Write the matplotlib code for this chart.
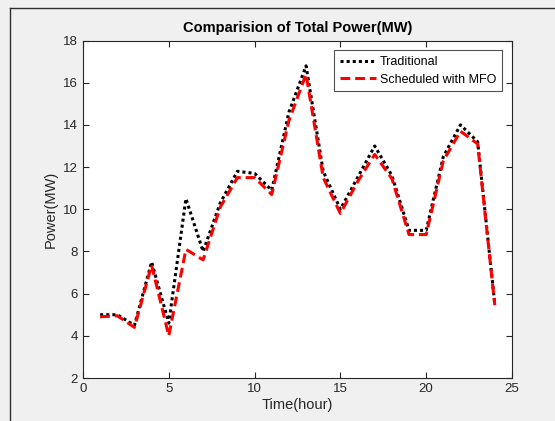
import numpy as np
import matplotlib

matplotlib.use("Agg")
import matplotlib.pyplot as plt
from matplotlib.lines import Line2D

plt.rcParams["font.family"] = ["Liberation Sans", "DejaVu Sans"]

hours = list(range(1, 25))
traditional = [5.0, 5.0, 4.5, 7.5, 4.6, 10.5, 8.0, 10.3, 11.8, 11.7, 10.9, 14.6,
               16.8, 11.8, 10.0, 11.5, 13.0, 11.6, 9.0, 9.0, 12.5, 14.0, 13.2, 5.5]
scheduled_mfo = [4.9, 4.95, 4.4, 7.35, 4.0, 8.1, 7.6, 10.1, 11.5, 11.5, 10.7, 14.2,
                 16.4, 11.5, 9.8, 11.3, 12.6, 11.45, 8.8, 8.8, 12.3, 13.7, 13.1, 5.45]

bg = "#f0f0f0"
axc = "#262626"

fig = plt.figure(figsize=(5.55, 4.21), dpi=100, facecolor=bg)
ax = fig.add_axes([0.1495, 0.1021, 0.7730, 0.8017])

ax.plot(hours, traditional, color="black", linestyle=(0, (1, 1)), linewidth=2.2,
        label="Traditional")
ax.plot(hours, scheduled_mfo, color="red", linestyle=(0, (3.2, 1.6)), linewidth=2.2,
        label="Scheduled with MFO")

ax.set_xlim(0, 25)
ax.set_ylim(2, 18)
ax.set_xticks(np.arange(0, 26, 5))
ax.set_yticks(np.arange(2, 19, 2))
ax.tick_params(direction="in", top=True, right=True, length=4, width=0.8,
               colors=axc, labelsize=9.5, labelcolor=axc)
for s in ax.spines.values():
    s.set_color(axc)
    s.set_linewidth(0.8)

ax.set_xlabel("Time(hour)", fontsize=10.5, color=axc, labelpad=2)
ax.set_ylabel("Power(MW)", fontsize=10.5, color=axc, labelpad=4)
ax.set_title("Comparision of Total Power(MW)", fontsize=10.5, fontweight="bold",
             color="black", pad=6)

leg = ax.legend(loc="upper right", bbox_to_anchor=(0.977, 0.971), fontsize=9,
                frameon=True, fancybox=False, handlelength=2.9, handletextpad=0.3,
                borderpad=0.45, labelspacing=0.45, borderaxespad=0.0)
leg.get_frame().set_edgecolor(axc)
leg.get_frame().set_linewidth(0.8)

# window border at left and top
W, H = 555, 421
fig.add_artist(Line2D([10 / W, 10 / W], [0, 1 - 8 / H], color="#303030",
                      linewidth=1.0, transform=fig.transFigure))
fig.add_artist(Line2D([10 / W, 1], [1 - 8 / H, 1 - 8 / H], color="#303030",
                      linewidth=1.0, transform=fig.transFigure))

fig.savefig("out.png", dpi=100, facecolor=bg)
